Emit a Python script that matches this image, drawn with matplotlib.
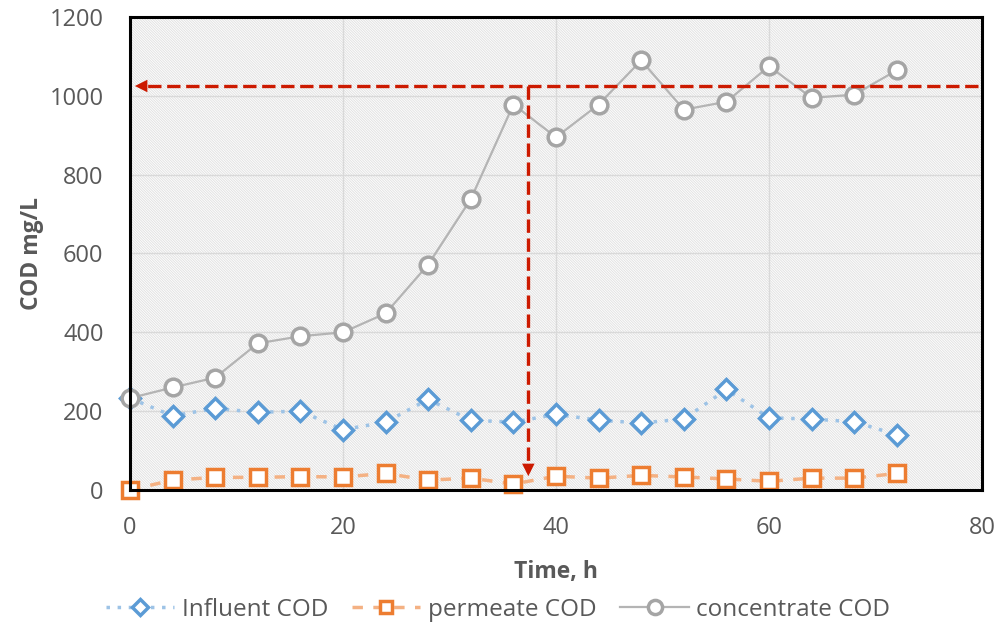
import matplotlib.pyplot as plt
import numpy as np

time_h = [0, 4, 8, 12, 16, 20, 24, 28, 32, 36, 40, 44, 48, 52, 56, 60, 64, 68, 72]
influent = [233, 188, 207, 197, 200, 153, 172, 230, 177, 172, 192, 177, 170, 180, 255, 183, 180, 173, 140]
permeate = [0, 25, 32, 32, 34, 33, 42, 25, 30, 15, 35, 30, 37, 33, 28, 22, 30, 30, 42]
concentrate = [233, 260, 285, 372, 390, 400, 448, 572, 738, 978, 895, 978, 1090, 965, 985, 1075, 995, 1003, 1065]

# steady-state marker (red arrows)
ss_time = 37.4
ss_cod = 1025

plt.rcParams["font.family"] = ["Open Sans", "DejaVu Sans"]
plt.rcParams["hatch.color"] = "#e2e2e2"
plt.rcParams["hatch.linewidth"] = 0.7

fig = plt.figure(figsize=(9.96, 6.26), dpi=100)
ax = fig.add_axes([0.1305, 0.2173, 0.8555, 0.7555])

ax.patch.set_facecolor("white")
ax.patch.set_hatch("\\" * 13)
ax.patch.set_edgecolor("#e2e2e2")

ax.plot(time_h, concentrate, color="#b4b4b4", lw=1.6, marker="o", ms=12,
        mfc="white", mec="#a5a5a5", mew=2.5, label="concentrate COD", zorder=3.5, clip_on=False)
ax.plot(time_h, influent, color="#9dc3e6", lw=2.5, ls=(0, (1, 2.2)), marker="D", ms=10,
        mfc="white", mec="#5b9bd5", mew=2.5, label="Influent COD", zorder=3, clip_on=False)
ax.plot(time_h, permeate, color="#f4b183", lw=2.5, ls=(0, (3, 3)), marker="s", ms=11,
        mfc="white", mec="#ed7d31", mew=2.5, label="permeate COD", zorder=3, clip_on=False)

red = "#cc1a00"
ax.plot([79.6, 1.5], [ss_cod, ss_cod], color=red, lw=2.4, ls=(0, (4, 1.7)), zorder=4)
ax.plot([ss_time, ss_time], [ss_cod, 45], color=red, lw=2.4, ls=(0, (4, 1.7)), zorder=4)
ax.annotate("", xy=(0.2, ss_cod), xytext=(3, ss_cod),
            arrowprops=dict(arrowstyle="-|>,head_length=0.9,head_width=0.45", color=red, lw=0),
            zorder=5)
ax.annotate("", xy=(ss_time, 28), xytext=(ss_time, 80),
            arrowprops=dict(arrowstyle="-|>,head_length=0.9,head_width=0.45", color=red, lw=0),
            zorder=5)

ax.set_xlim(0, 80)
ax.set_ylim(0, 1200)
ax.set_xticks(range(0, 81, 20))
ax.set_yticks(range(0, 1201, 200))
ax.grid(True, color="#d9d9d9", lw=1)
ax.set_axisbelow(True)
ax.tick_params(length=0, labelsize=17, labelcolor="#595959", pad=19)
for s in ax.spines.values():
    s.set_color("black")
    s.set_linewidth(2.2)
    s.set_zorder(6)

ax.set_xlabel("Time, h", fontsize=16.5, fontweight="bold", color="#595959", labelpad=14)
ax.set_ylabel("COD mg/L", fontsize=16.5, fontweight="bold", color="#595959", labelpad=4)

handles, labels = ax.get_legend_handles_labels()
order = [1, 2, 0]
fig.legend([handles[i] for i in order], [labels[i] for i in order],
           loc="center", bbox_to_anchor=(0.5, 0.026), ncol=3, frameon=False,
           fontsize=17.5, handlelength=2.8, handletextpad=0.3, columnspacing=1.0,
           labelcolor="#595959", markerscale=0.85)

fig.savefig("out.png", dpi=100)
